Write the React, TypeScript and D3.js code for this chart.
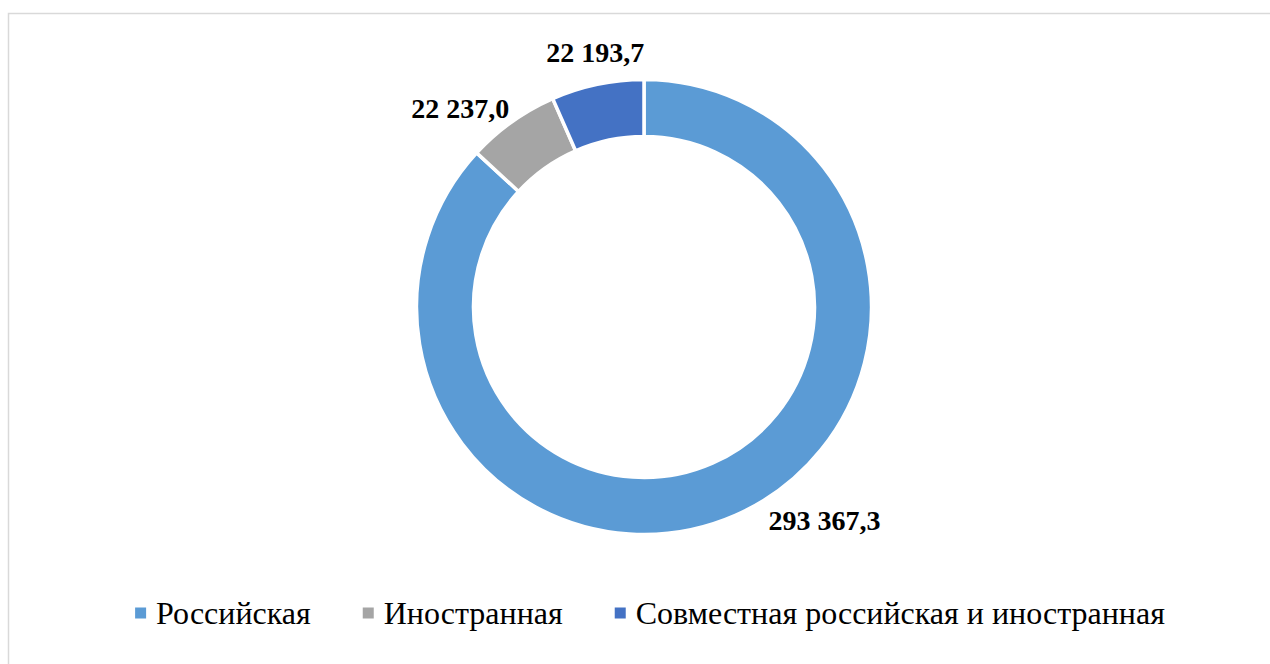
import React, { useEffect, useRef } from 'react';
import * as d3 from 'd3';

// ownership types and volumes
const categories = ['Российская', 'Иностранная', 'Совместная российская и иностранная'];
const values = [293367.3, 22237.0, 22193.7];
const valueLabels = ['293 367,3', '22 237,0', '22 193,7'];
const colors = ['#5b9bd5', '#a5a5a5', '#4472c4'];
// label nudges (Excel puts outside labels a bit off the mid angle)
const labelNudge: [number, number][] = [[77, -23], [-34, 11], [4, -2]];

const W = 1270;
const H = 664;
const FONT = '"Liberation Serif", "Times New Roman", serif';

const App = () => {
  const svgRef = useRef<SVGSVGElement>(null);

  useEffect(() => {
    const svg = d3.select(svgRef.current);
    svg.selectAll('*').remove();

    svg.append('rect')
      .attr('x', 8.5).attr('y', 13.5)
      .attr('width', W + 20).attr('height', H + 20)
      .attr('fill', '#fff')
      .attr('stroke', '#d9d9d9')
      .attr('stroke-width', 1.5);

    const cx = 644;
    const cy = 307;
    const outerR = 227.5;
    const innerR = 170.5;

    const pie = d3.pie<number>().value(d => d).sort(null);
    const arcs = pie(values);

    const arc = d3.arc<d3.PieArcDatum<number>>()
      .innerRadius(innerR)
      .outerRadius(outerR);

    const g = svg.append('g').attr('transform', `translate(${cx},${cy})`);

    g.selectAll('path')
      .data(arcs)
      .enter().append('path')
        .attr('d', arc)
        .attr('fill', (d, i) => colors[i])
        .attr('stroke', '#fff')
        .attr('stroke-width', 3.5);

    // data labels
    const labelR = 258;
    g.selectAll('text.lbl')
      .data(arcs)
      .enter().append('text')
        .attr('class', 'lbl')
        .attr('x', (d, i) => {
          const a = (d.startAngle + d.endAngle) / 2;
          return labelR * Math.sin(a) + labelNudge[i][0];
        })
        .attr('y', (d, i) => {
          const a = (d.startAngle + d.endAngle) / 2;
          return -labelR * Math.cos(a) + labelNudge[i][1];
        })
        .attr('dy', '0.35em')
        .attr('text-anchor', 'middle')
        .attr('font-family', FONT)
        .attr('font-weight', 'bold')
        .attr('font-size', 28)
        .attr('fill', '#000')
        .text((d, i) => valueLabels[i]);

    // legend
    const legend = svg.append('g');
    const fontSize = 32;
    const sq = 11;
    const sqGap = 10;
    const itemGap = 52;
    const items = categories.map((c, i) => {
      const it = legend.append('g');
      it.append('rect')
        .attr('width', sq).attr('height', sq)
        .attr('y', -sq / 2)
        .attr('fill', colors[i]);
      const t = it.append('text')
        .attr('x', sq + sqGap)
        .attr('dy', '0.35em')
        .attr('font-family', FONT)
        .attr('font-size', fontSize)
        .attr('fill', '#000')
        .text(c);
      const w = (t.node() as SVGTextElement).getComputedTextLength();
      return { it, w: sq + sqGap + w };
    });
    const total = d3.sum(items, d => d.w) + itemGap * (items.length - 1);
    let x = 650 - total / 2;
    items.forEach(d => {
      d.it.attr('transform', `translate(${x},613)`);
      x += d.w + itemGap;
    });
  }, []);

  return (
    <svg
      ref={svgRef}
      width={W}
      height={H}
      style={{ position: 'absolute', left: 0, top: 0, background: '#fff' }}
    />
  );
};

export default App;
